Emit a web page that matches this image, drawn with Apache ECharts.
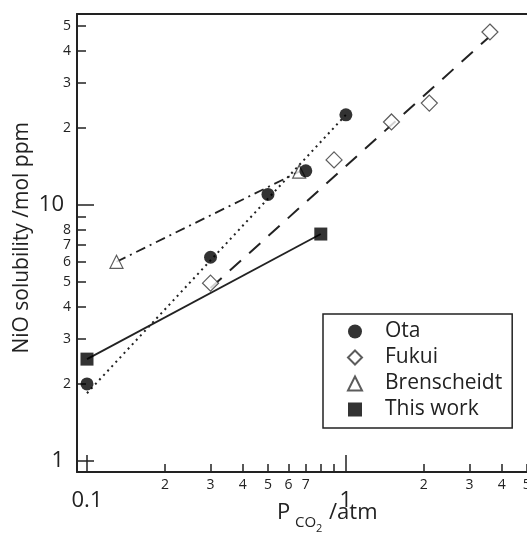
<!DOCTYPE html>
<html>
<head>
<meta charset="utf-8">
<script src="https://cdn.jsdelivr.net/npm/echarts@6/dist/echarts.min.js"></script>
<style>
  html, body { margin: 0; padding: 0; background: #fff; }
  #chart { width: 527px; height: 533px; }
</style>
</head>
<body>
<div id="chart"></div>
<script>
// measured points (P_CO2 /atm, NiO /mol ppm)
var otaX = [0.1, 0.3, 0.5, 0.7, 1.0];
var otaY = [2.0, 6.25, 11.0, 13.6, 22.5];
var fukuiX = [0.3, 0.9, 1.5, 2.1, 3.6];
var fukuiY = [4.95, 15.0, 21.1, 25.0, 47.4];
var brensX = [0.13, 0.66];
var brensY = [6.0, 13.5];
var thisX = [0.1, 0.8];
var thisY = [2.5, 7.7];

// fitted lines drawn through the data (end points)
var otaFitX = [0.1, 1.0];
var otaFitY = [1.84, 22.5];
var fukuiFitX = [0.3, 3.54];
var fukuiFitY = [4.74, 44.9];

// ticks
var xMajor = [0.1, 1];
var xMinorTicks = [0.2, 0.3, 0.4, 0.5, 0.6, 0.7, 0.8, 0.9, 2, 3, 4, 5];
var xMinorLabels = [0.2, 0.3, 0.4, 0.5, 0.6, 0.7, 2, 3, 4, 5];
var yMajor = [1, 10];
var yMinorTicks = [2, 3, 4, 5, 6, 7, 8, 9, 20, 30, 40, 50];
var yMinorLabels = [2, 3, 4, 5, 6, 7, 8, 20, 30, 40, 50];

var legendNames = ["Ota", "Fukui", "Brenscheidt", "This work"];

var lg = function(v) { return Math.log10(v); };
var pairs = function(xs, ys) {
  return xs.map(function(x, i) { return [lg(x), lg(ys[i])]; });
};
// leading digit of a log10 tick value
var digit = function(v) {
  var p = Math.pow(10, v);
  var e = Math.floor(v + 1e-9);
  return String(Math.round(p / Math.pow(10, e)));
};

var FONT = "Open Sans";
var INK = "#222";

var xMin = -1.0386, xMax = 0.6995;
var yMin = -0.043, yMax = 1.746;

var chart = echarts.init(document.getElementById("chart"));

var baseX = {
  type: "value",
  min: xMin,
  max: xMax,
  splitLine: { show: false },
  axisLine: { show: false, onZero: false },
  axisPointer: { show: false }
};
var baseY = {
  type: "value",
  min: yMin,
  max: yMax,
  splitLine: { show: false },
  axisLine: { show: false, onZero: false },
  axisPointer: { show: false }
};

var option = {
  animation: false,
  backgroundColor: "#fff",
  grid: { left: 77, top: 14, bottom: 61, right: 0, show: false, containLabel: false, outerBoundsMode: "none" },
  xAxis: [
    Object.assign({}, baseX, {
      position: "bottom",
      axisLine: { show: true, onZero: false, lineStyle: { color: INK, width: 2 } },
      axisTick: { show: true, inside: true, length: 8, customValues: xMinorTicks.map(lg), lineStyle: { color: INK, width: 1.5 } },
      axisLabel: {
        customValues: xMinorLabels.map(lg), margin: 6,
        fontFamily: FONT, fontSize: 14, color: INK,
        formatter: function(v) { return digit(v); }
      }
    }),
    Object.assign({}, baseX, {
      position: "bottom",
      axisTick: { show: true, inside: true, length: 17, customValues: xMajor.map(lg), lineStyle: { color: INK, width: 1.5 } },
      axisLabel: {
        customValues: xMajor.map(lg), margin: 18,
        fontFamily: FONT, fontSize: 22, color: INK,
        formatter: function(v) { return String(Math.round(Math.pow(10, v) * 10) / 10); }
      }
    }),
    Object.assign({}, baseX, {
      position: "top",
      axisLine: { show: true, onZero: false, lineStyle: { color: INK, width: 2 } },
      axisTick: { show: false },
      axisLabel: { show: false }
    })
  ],
  yAxis: [
    Object.assign({}, baseY, {
      position: "left",
      axisLine: { show: true, onZero: false, lineStyle: { color: INK, width: 2 } },
      axisTick: { show: true, inside: true, length: 9, customValues: yMinorTicks.map(lg), lineStyle: { color: INK, width: 1.5 } },
      axisLabel: {
        customValues: yMinorLabels.map(lg), margin: 6,
        fontFamily: FONT, fontSize: 14, color: INK,
        formatter: function(v) { return digit(v); }
      }
    }),
    Object.assign({}, baseY, {
      position: "left",
      axisTick: { show: true, inside: true, length: 17, customValues: yMajor.map(lg), lineStyle: { color: INK, width: 1.5 } },
      axisLabel: {
        customValues: yMajor.map(lg), margin: 13,
        fontFamily: FONT, fontSize: 22, color: INK,
        formatter: function(v) { return String(Math.round(Math.pow(10, v))); }
      }
    })
  ],
  legend: {
    orient: "vertical",
    left: 323,
    top: 314,
    padding: [7, 10, 8, 24],
    itemGap: 5,
    itemWidth: 14,
    itemHeight: 14,
    borderColor: INK,
    borderWidth: 1.5,
    borderRadius: 0,
    textStyle: { fontFamily: FONT, fontSize: 21, color: INK, lineHeight: 21, padding: [0, 0, 0, 18] },
    data: [
      { name: legendNames[0], icon: "circle" },
      { name: legendNames[1], icon: "diamond" },
      { name: legendNames[2], icon: "triangle" },
      { name: legendNames[3], icon: "rect" }
    ]
  },
  graphic: [
    {
      type: "text", left: 12, top: 122, rotation: Math.PI / 2,
      style: { text: "NiO solubility /mol ppm", fontFamily: FONT, fontSize: 21, fill: INK }
    },
    { type: "text", left: 277, top: 502, style: { text: "P", fontFamily: FONT, fontSize: 22, fill: INK } },
    { type: "text", left: 295, top: 515, style: { text: "CO", fontFamily: FONT, fontSize: 15, fill: INK } },
    { type: "text", left: 316, top: 523, style: { text: "2", fontFamily: FONT, fontSize: 11, fill: INK } },
    { type: "text", left: 329, top: 502, style: { text: "/atm", fontFamily: FONT, fontSize: 22, fill: INK } }
  ],
  series: [
    {
      name: "Ota fit", type: "line", data: pairs(otaFitX, otaFitY), symbol: "none",
      lineStyle: { color: INK, width: 2, type: [2, 4] }, z: 2
    },
    {
      name: "Fukui fit", type: "line", data: pairs(fukuiFitX, fukuiFitY), symbol: "none",
      lineStyle: { color: INK, width: 2, type: [15, 11] }, z: 2
    },
    {
      name: "Brenscheidt fit", type: "line", data: pairs(brensX, brensY), symbol: "none",
      lineStyle: { color: INK, width: 1.8, type: [10, 5, 2, 5] }, z: 2
    },
    {
      name: "This work fit", type: "line", data: pairs(thisX, thisY), symbol: "none",
      lineStyle: { color: INK, width: 1.8, type: "solid" }, z: 2
    },
    {
      name: legendNames[0], type: "scatter", data: pairs(otaX, otaY), symbol: "circle", symbolSize: 13,
      itemStyle: { color: "#000" }, z: 4
    },
    {
      name: legendNames[1], type: "scatter", data: pairs(fukuiX, fukuiY), symbol: "diamond", symbolSize: 16,
      itemStyle: { color: "#fff", borderColor: "#333", borderWidth: 1.2 }, z: 3
    },
    {
      name: legendNames[2], type: "scatter", data: pairs(brensX, brensY), symbol: "triangle", symbolSize: 13,
      itemStyle: { color: "#fff", borderColor: "#333", borderWidth: 1.2 }, z: 3
    },
    {
      name: legendNames[3], type: "scatter", data: pairs(thisX, thisY), symbol: "rect", symbolSize: 13,
      itemStyle: { color: "#000" }, z: 4
    }
  ]
};

chart.setOption(option);
</script>
</body>
</html>
